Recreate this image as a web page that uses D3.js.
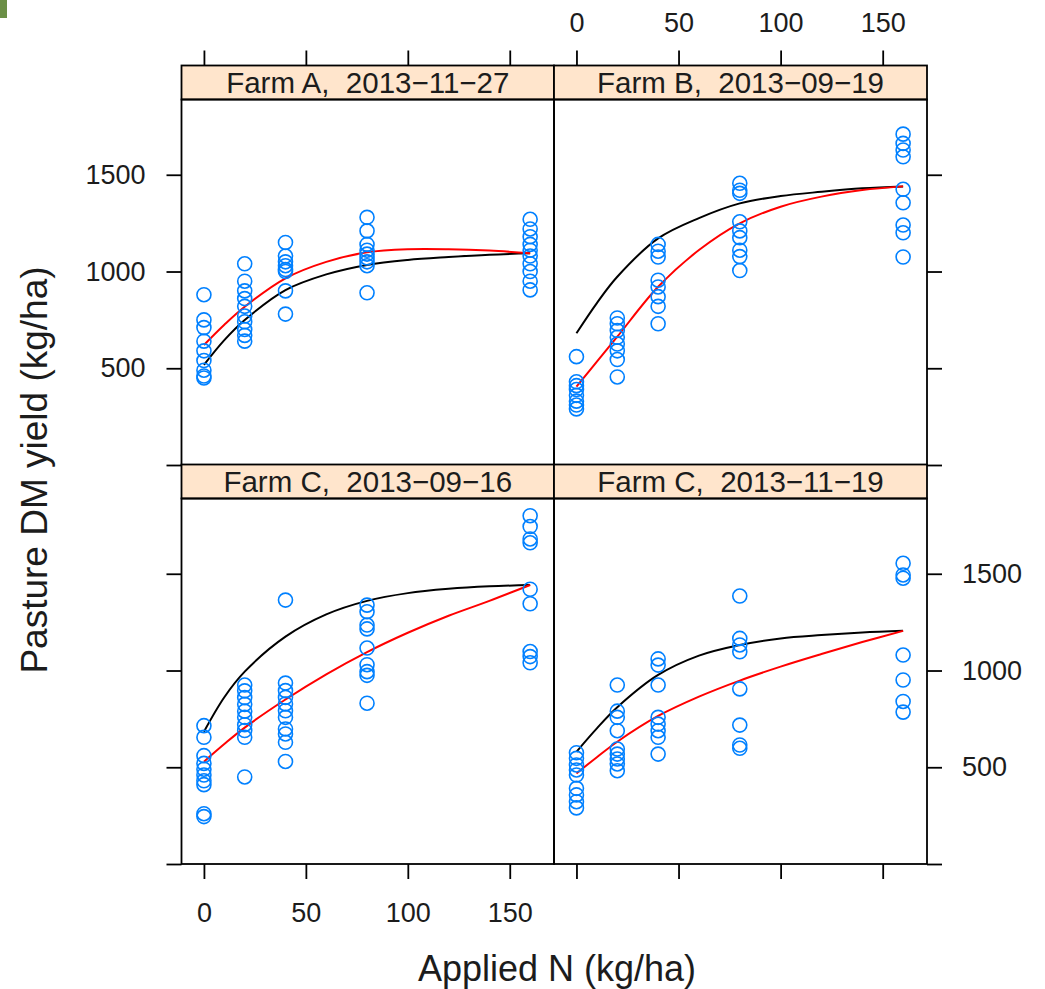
<!DOCTYPE html>
<html>
<head>
<meta charset="utf-8">
<script src="https://cdn.jsdelivr.net/npm/d3@7"></script>
<style>
  html, body { margin: 0; padding: 0; background: #fff; }
  svg { display: block; font-family: "Liberation Sans", Arial, sans-serif; }
</style>
</head>
<body>
<svg id="chart" width="1045" height="989"></svg>
<script>
// ---- data ----
const panelTitles = ['Farm A,  2013\u221211\u221227', 'Farm B,  2013\u221209\u221219',
                     'Farm C,  2013\u221209\u221216', 'Farm C,  2013\u221211\u221219'];
const nRates = [0, 20, 40, 80, 160];

// yields (kg/ha), one list per N rate
const farmA_yield = [
  [880, 750, 710, 640, 590, 540, 490, 460, 450],
  [1040, 950, 900, 860, 820, 770, 740, 700, 670, 640],
  [1150, 1080, 1050, 1030, 1010, 1000, 900, 780],
  [1280, 1210, 1140, 1110, 1090, 1070, 1050, 1030, 890],
  [1270, 1220, 1180, 1140, 1110, 1080, 1040, 1000, 950, 905]
];
const farmB_yield = [
  [560, 430, 410, 390, 360, 330, 310, 290],
  [760, 730, 695, 660, 625, 590, 545, 455],
  [1140, 1105, 1075, 955, 920, 870, 820, 730],
  [1456, 1420, 1404, 1257, 1210, 1175, 1110, 1077, 1005],
  [1710, 1662, 1628, 1593, 1425, 1355, 1240, 1200, 1075]
];
const farmC1_yield = [
  [715, 655, 560, 520, 490, 460, 430, 410, 260, 245],
  [925, 895, 860, 825, 790, 758, 720, 690, 655, 450],
  [1364, 935, 896, 861, 827, 792, 758, 698, 672, 629, 530],
  [1338, 1304, 1235, 1215, 1116, 1030, 994, 975, 831],
  [1800, 1744, 1680, 1660, 1420, 1345, 1098, 1072, 1040]
];
const farmC2_yield = [
  [575, 546, 512, 486, 460, 391, 357, 322, 290],
  [925, 790, 758, 689, 594, 568, 543, 517, 482],
  [1060, 1028, 925, 758, 723, 689, 655, 568],
  [1385, 1166, 1132, 1097, 905, 718, 615, 598],
  [1554, 1494, 1477, 1080, 951, 840, 785]
];

// fitted response curves (kg/ha) at these N rates
const curveN = [0, 10, 20, 40, 60, 80, 100, 120, 140, 160];
const farmA_black = [517, 645, 749, 904, 985, 1034, 1060, 1075, 1087, 1094];
const farmA_red   = [620, 725, 818, 965, 1050, 1099, 1115, 1115, 1108, 1094];
const farmB_black = [681, 837, 973, 1171, 1276, 1352, 1390, 1412, 1430, 1440];
const farmB_red   = [405, 534, 663, 921, 1111, 1249, 1335, 1387, 1421, 1440];
const farmC1_black = [684, 862, 994, 1175, 1290, 1360, 1400, 1422, 1435, 1442];
const farmC1_red   = [529, 620, 705, 850, 980, 1095, 1195, 1283, 1360, 1442];
const farmC2_black = [580, 701, 810, 977, 1077, 1132, 1166, 1183, 1196, 1205];
const farmC2_red   = [468, 552, 632, 765, 865, 948, 1020, 1085, 1147, 1205];

const xTicks = [0, 50, 100, 150];
const yTicks = [0, 500, 1000, 1500];

// ---- layout ----
const colX = [[181.5, 554], [554, 927]];
const rowY = [[99.5, 465], [498.5, 864]];
const stripH = 34;
const tickLen = 15;
const xDomain = [-11, 171.7];
const yDomain = [0, 1889];

const panels = [
  { title: panelTitles[0], col: 0, row: 0, pts: farmA_yield, black: farmA_black, red: farmA_red },
  { title: panelTitles[1], col: 1, row: 0, pts: farmB_yield, black: farmB_black, red: farmB_red },
  { title: panelTitles[2], col: 0, row: 1, pts: farmC1_yield, black: farmC1_black, red: farmC1_red },
  { title: panelTitles[3], col: 1, row: 1, pts: farmC2_yield, black: farmC2_black, red: farmC2_red }
];

const svg = d3.select('#chart');
svg.append('rect').attr('width', 1045).attr('height', 989).attr('fill', '#fff');
// little green corner patch
svg.append('rect').attr('x', 0).attr('y', 0).attr('width', 7).attr('height', 18).attr('fill', '#6b8f46');

const ink = '#1c1c1c';

panels.forEach(p => {
  const [x0, x1] = colX[p.col];
  const [y0, y1] = rowY[p.row];
  const x = d3.scaleLinear().domain(xDomain).range([x0, x1]);
  const y = d3.scaleLinear().domain(yDomain).range([y1, y0]);

  const g = svg.append('g');

  // strip
  g.append('rect')
    .attr('x', x0).attr('y', y0 - stripH)
    .attr('width', x1 - x0).attr('height', stripH)
    .attr('fill', '#ffe5cc').attr('stroke', '#000').attr('stroke-width', 1.8);
  g.append('text')
    .attr('x', (x0 + x1) / 2).attr('y', y0 - stripH / 2)
    .attr('dy', '0.36em')
    .attr('text-anchor', 'middle')
    .attr('font-size', 29.5).attr('fill', ink)
    .style('white-space', 'pre')
    .text(p.title);

  // panel frame
  g.append('rect')
    .attr('x', x0).attr('y', y0)
    .attr('width', x1 - x0).attr('height', y1 - y0)
    .attr('fill', 'none').attr('stroke', '#000').attr('stroke-width', 1.8);

  // curves
  const line = d3.line()
    .x((d, i) => x(curveN[i]))
    .y(d => y(d))
    .curve(d3.curveCatmullRom.alpha(0.5));
  g.append('path').datum(p.black).attr('d', line)
    .attr('fill', 'none').attr('stroke', '#000').attr('stroke-width', 2);
  g.append('path').datum(p.red).attr('d', line)
    .attr('fill', 'none').attr('stroke', '#ff0000').attr('stroke-width', 2);

  // points
  const flat = [];
  p.pts.forEach((vals, i) => vals.forEach(v => flat.push({ n: nRates[i], v })));
  g.selectAll('circle.pt')
    .data(flat)
    .enter()
    .append('circle')
      .attr('class', 'pt')
      .attr('cx', d => x(d.n))
      .attr('cy', d => y(d.v))
      .attr('r', 7)
      .attr('fill', 'none')
      .attr('stroke', '#0080ff')
      .attr('stroke-width', 1.6);

  // x axis: ticks top and bottom, labels bottom (left col) / top (right col)
  const xTop = d3.axisTop(x).tickValues(xTicks).tickSize(tickLen).tickPadding(19)
    .tickFormat(p.col === 1 && p.row === 0 ? d3.format('d') : '');
  const xBot = d3.axisBottom(x).tickValues(xTicks).tickSize(tickLen).tickPadding(24)
    .tickFormat(p.col === 0 && p.row === 1 ? d3.format('d') : '');
  if (p.row === 0) g.append('g').attr('transform', `translate(0,${y0 - stripH})`).call(xTop);
  if (p.row === 1) g.append('g').attr('transform', `translate(0,${y1})`).call(xBot);

  // y axis: ticks left and right, labels left (top row) / right (bottom row)
  const lab = v => v === 0 ? '' : v;
  if (p.col === 0) {
    g.append('g').attr('transform', `translate(${x0},0)`)
      .call(d3.axisLeft(y).tickValues(yTicks).tickSize(tickLen).tickPadding(21)
        .tickFormat(p.row === 0 ? lab : ''));
  } else {
    g.append('g').attr('transform', `translate(${x1},0)`)
      .call(d3.axisRight(y).tickValues(yTicks).tickSize(tickLen).tickPadding(20)
        .tickFormat(p.row === 1 ? lab : ''));
  }
});

// axis styling
svg.selectAll('.domain').remove();
svg.selectAll('.tick line').attr('stroke', '#000').attr('stroke-width', 1.8);
svg.selectAll('.tick text').attr('font-size', 27).attr('fill', ink)
  .attr('font-family', '"Liberation Sans", Arial, sans-serif');

// axis titles
svg.append('text')
  .attr('x', 557).attr('y', 968).attr('dy', '0.36em')
  .attr('text-anchor', 'middle').attr('font-size', 36).attr('fill', ink)
  .text('Applied N (kg/ha)');
svg.append('text')
  .attr('transform', 'translate(34,470) rotate(-90)')
  .attr('dy', '0.36em')
  .attr('text-anchor', 'middle').attr('font-size', 37).attr('fill', ink)
  .text('Pasture DM yield (kg/ha)');
</script>
</body>
</html>
